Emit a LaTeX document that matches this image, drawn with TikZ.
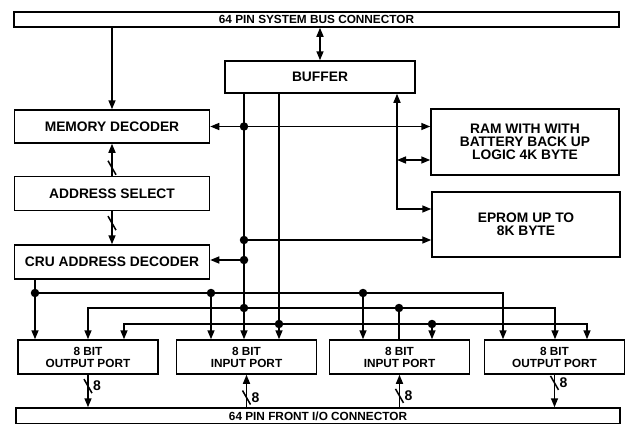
\documentclass[tikz,border=0pt]{standalone}
\usepackage{fontspec}
\setmainfont{Liberation Sans}
\usepackage{tikz}
\usetikzlibrary{arrows.meta, positioning, calc}

\begin{document}
\begin{tikzpicture}[x=1pt, y=-1pt,
          box/.style={draw, line width=1.5pt, minimum width=195pt, minimum height=34pt,
              inner sep=0pt, font=\fontsize{13.8}{13}\selectfont\bfseries, align=center},
          port/.style={box, minimum width=140pt, font=\fontsize{11.8}{12}\selectfont\bfseries},
          bar/.style={draw, line width=1.5pt, inner sep=0pt, font=\fontsize{11.8}{12}\selectfont\bfseries},
          arr/.style={-{Triangle[length=9pt,width=7pt]}, line width=1.5pt},
          dbl/.style={{Triangle[length=9pt,width=7pt]}-{Triangle[length=9pt,width=7pt]}, line width=1.5pt},
          wire/.style={line width=1.5pt},
          dot/.style={circle, fill, inner sep=0pt, minimum size=8.5pt},
          num/.style={inner sep=0pt, font=\fontsize{14}{13}\selectfont\bfseries},
          slash/.pic={\draw[line width=1.5pt] (-4,-7) -- (4,7);}
        ]
        \useasboundingbox (0,0) rectangle (626,423);
        \node[bar, minimum width=605pt, minimum height=15pt] (sysbus) at (316.5,19.5) {64 PIN SYSTEM BUS CONNECTOR};
        \node[box, minimum width=190pt, minimum height=32pt] (buffer) at (320,77) {BUFFER};
        \node[box, minimum height=33pt] (memdec) at (112,126.5) {MEMORY DECODER};
        \node[box, below=32pt of memdec] (addrsel) {ADDRESS SELECT};
        \node[box, below=33pt of addrsel] (cru) {CRU ADDRESS DECODER};
        \node[box, minimum width=188pt, minimum height=66pt] (ram) at (525,142)
        {RAM WITH WITH\\BATTERY BACK UP\\LOGIC 4K BYTE};
        \node[box, minimum width=188pt, minimum height=65pt] (eprom) at (526,224.5) {EPROM UP TO\\8K BYTE};
        \node[port] (outa) at (88,357) {8 BIT\\OUTPUT PORT};
        \node[port] (ina) at (246.5,357) {8 BIT\\INPUT PORT};
        \node[port] (inb) at (399.5,357) {8 BIT\\INPUT PORT};
        \node[port] (outb) at (554.5,357) {8 BIT\\OUTPUT PORT};
        \node[bar, minimum width=604pt, minimum height=16pt] (iobus) at (318,416) {64 PIN FRONT I/O CONNECTOR};

        \node[dot] (jm) at (244,126.5) {};
        \node[dot] (je) at (244,240) {};
        \node[dot] (jc) at (244,260) {};
        \node[dot] (jd) at (35,293) {};
        \node[dot] (j1b) at (211,293) {};
        \node[dot] (j1c) at (363,293) {};
        \node[dot] (j2b) at (244,308) {};
        \node[dot] (j2c) at (399,308) {};
        \node[dot] (j3b) at (279,324) {};
        \node[dot] (j3c) at (432,324) {};
        \coordinate (bk) at (397,209);
        \coordinate (rk) at (397,160);
        \coordinate (c1) at (503,293);
        \coordinate (l2a) at (88,308);
        \coordinate (l2b) at (555,308);
        \coordinate (l3a) at (124,324);
        \coordinate (l3b) at (587,324);

        \draw[dbl] (sysbus.south -| buffer.north) -- (buffer.north);
        \draw[arr] (sysbus.south -| memdec.north) -- (memdec.north);
        \draw[wire] (buffer.south -| j2b) -- (j2b);
        \draw[wire] (buffer.south -| j3b) -- (j3b);
        \draw[arr] (j2b) -- (j2b |- ina.north);
        \draw[arr] (j3b) -- (j3b |- ina.north);
        \draw[arr] (jm) -- (jm -| memdec.east);
        \draw[arr] (jm) -- (jm -| ram.west);
        \draw[arr] (je) -- (je -| eprom.west);
        \draw[arr] (jc) -- (jc -| cru.east);
        \draw[dbl] (bk |- buffer.south) -- (bk) -- (bk -| eprom.west);
        \draw[dbl] (rk) -- (rk -| ram.west);
        \draw[arr] (addrsel.north) -- (memdec.south);
        \draw[arr] (addrsel.south) -- (cru.north);
        \draw[wire] (cru.south -| jd) -- (jd);
        \draw[arr] (jd) -- (jd |- outa.north);
        \draw[arr] (jd) -- (c1) -- (c1 |- outb.north);
        \draw[arr] (j1b) -- (j1b |- ina.north);
        \draw[arr] (j1c) -- (j1c |- inb.north);
        \draw[dbl] (l2a |- outa.north) -- (l2a) -- (l2b) -- (l2b |- outb.north);
        \draw[wire] (j2c) -- (j2c |- inb.north);
        \draw[dbl] (l3a |- outa.north) -- (l3a) -- (l3b) -- (l3b |- outb.north);
        \draw[arr] (j3c) -- (j3c |- inb.north);
        \draw[arr] (outa.south) -- (outa.south |- iobus.north);
        \draw[arr] (ina.south |- iobus.north) -- (ina.south);
        \draw[arr] (inb.south |- iobus.north) -- (inb.south);
        \draw[arr] (outb.south) -- (outb.south |- iobus.north);

        \coordinate (s0) at ($(memdec.south)!0.75!(addrsel.north)$);
        \coordinate (s5) at ($(addrsel.south)!0.36!(cru.north)$);
        \coordinate (s1) at ($(outa.south)!0.35!(outa.south |- iobus.north)$);
        \coordinate (s2) at ($(ina.south)!0.7!(ina.south |- iobus.north)$);
        \coordinate (s3) at ($(inb.south)!0.65!(inb.south |- iobus.north)$);
        \coordinate (s4) at ($(outb.south)!0.25!(outb.south |- iobus.north)$);
        \pic at (s0) {slash};
        \pic at (s5) {slash};
        \pic at (s1) {slash};
        \pic at (s2) {slash};
        \pic at (s3) {slash};
        \pic at (s4) {slash};
        \node[num, right=5pt of s1] (w1) {8};
        \node[num, right=5pt of s2] (w2) {8};
        \node[num, right=5pt of s3] (w3) {8};
        \node[num, right=5pt of s4] (w4) {8};
      \end{tikzpicture}
\end{document}
